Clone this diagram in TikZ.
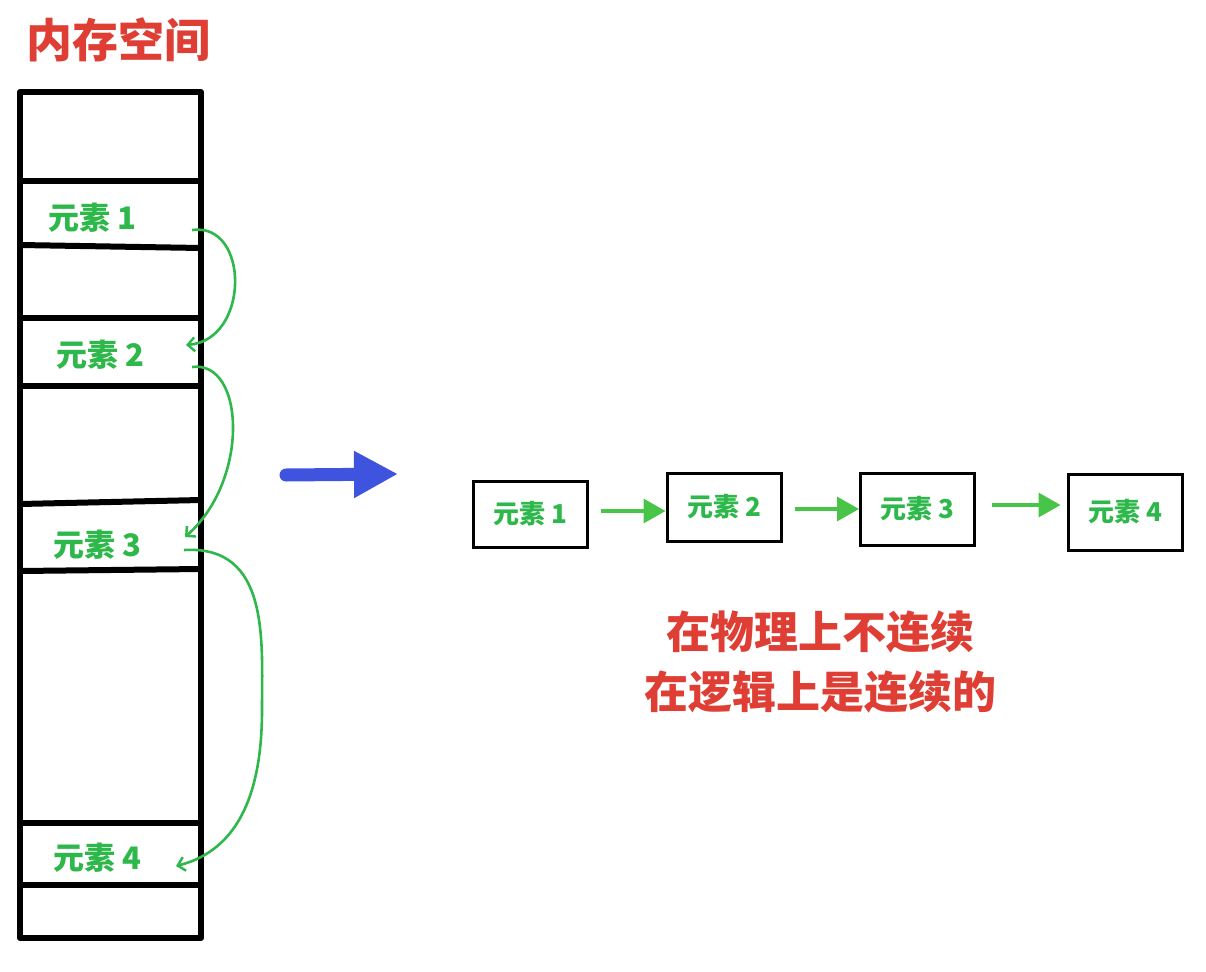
\documentclass[tikz,border=0pt]{standalone}
\usepackage{fontspec}
\newfontfamily\cjk{Noto Sans CJK SC}
\usetikzlibrary{arrows.meta}
\definecolor{hred}{RGB}{222,62,52}
\definecolor{hgreen}{RGB}{46,184,76}
\definecolor{hgreen2}{RGB}{72,196,72}
\definecolor{hblue}{RGB}{62,84,222}
\begin{document}
\begin{tikzpicture}[x=1pt,y=-1pt,
  memline/.style={line width=6pt,black},
  memlabel/.style={text=hgreen,font=\cjk\bfseries\fontsize{31}{34}\selectfont,inner sep=0pt},
  linkcurve/.style={hgreen,line width=2.6pt,-{Straight Barb[length=7pt,width=14pt,line width=2.4pt]}},
  lbox/.style={draw=black,line width=3pt,minimum width=114pt,inner sep=0pt,text=hgreen,font=\cjk\bfseries\fontsize{26}{28}\selectfont},
  larrow/.style={hgreen2,line width=3.5pt,-{Triangle[length=22pt,width=24pt]}},
  redtext/.style={text=hred,font=\cjk\bfseries\fontsize{44}{48}\selectfont,inner sep=0pt}]
\useasboundingbox[fill=white] (0,0) rectangle (1206,971);
% title
\node[text=hred,font=\cjk\bfseries\fontsize{46}{50}\selectfont,inner sep=0pt] (title) at (118,40) {内存空间};
% memory column
\draw[memline,line join=round] (20,92) rectangle (201,938);
\draw[memline] (20,181) -- (201,181);
\draw[memline] (20,245) -- (201,248);
\draw[memline] (20,318) -- (201,318);
\draw[memline] (20,386) -- (201,386);
\draw[memline] (20,504) -- (201,500);
\draw[memline] (20,571) -- (201,569);
\draw[memline] (20,823) -- (201,823);
\draw[memline] (20,885) -- (201,885);
% labels
\node[memlabel] (m1) at (92,218) {元素 1};
\node[memlabel] (m2) at (100,355) {元素 2};
\node[memlabel] (m3) at (97,545) {元素 3};
\node[memlabel] (m4) at (97,858) {元素 4};
\coordinate (s1) at (192,230);
\coordinate (e2) at (186,345);
\coordinate (s2) at (192,367);
\coordinate (e3) at (185,537);
\coordinate (s3) at (184,550);
\coordinate (e4) at (176,866);
\draw[linkcurve] (s1) .. controls (250,222) and (250,340) .. (e2);
\draw[linkcurve] (s2) .. controls (245,360) and (250,480) .. (e3);
\draw[linkcurve] (s3) .. controls (270,545) and (262,640) .. (262,710)
   .. controls (262,790) and (240,850) .. (e4);
% blue arrow
\coordinate (ba) at (286,475);
\coordinate (bb) at (398,474);
\draw[hblue,line width=13pt,line cap=round,-{Triangle[length=44pt,width=44pt,line cap=butt]}] (ba) -- (bb);
% right boxes
\node[lbox,minimum height=66pt] (b1) at (530.5,514) {元素 1};
\node[lbox,minimum height=68pt] (b2) at (724,507) {元素 2};
\node[lbox,minimum height=72pt] (b3) at (917.5,509) {元素 3};
\node[lbox,minimum height=76pt] (b4) at (1125,512) {元素 4};
\draw[larrow] (b1.east |- 0,511) ++(12,0) coordinate (a1s) -- (b2.west |- 0,511);
\draw[larrow] (b2.east |- 0,509) ++(12,0) -- (b3.west |- 0,509);
\draw[larrow] (b3.east |- 0,505) ++(16,0) -- ([xshift=-6pt]b4.west |- 0,505);
% red text
\node[redtext] (t1) at (820,632) {在物理上不连续};
\node[redtext] (t2) at (820,692) {在逻辑上是连续的};
\end{tikzpicture}
\end{document}
